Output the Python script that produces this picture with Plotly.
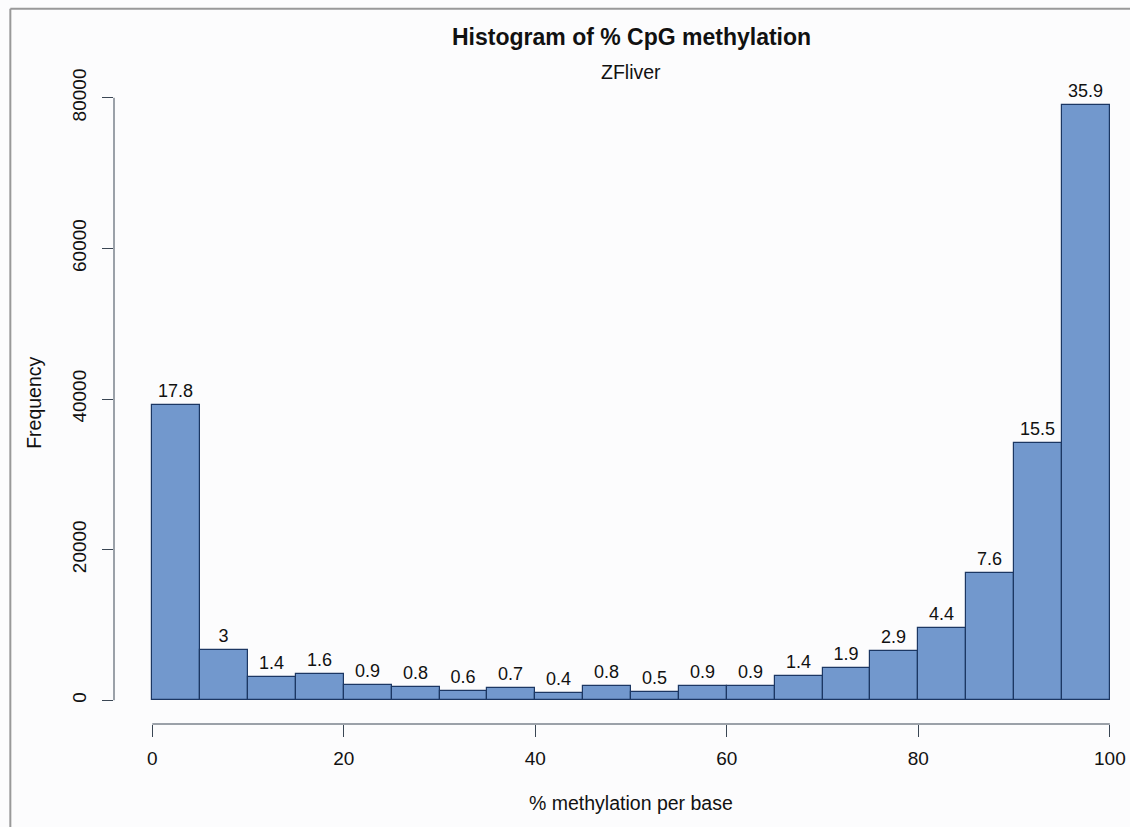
import plotly.graph_objects as go

# ---- data ----
bin_edges = [0, 5, 10, 15, 20, 25, 30, 35, 40, 45, 50, 55, 60, 65, 70, 75, 80, 85, 90, 95, 100]
counts = [39200, 6650, 3100, 3420, 1990, 1770, 1240, 1640, 930, 1820,
          1060, 1900, 1900, 3150, 4300, 6510, 9610, 16840, 34200, 79070]
pct_labels = ["17.8", "3", "1.4", "1.6", "0.9", "0.8", "0.6", "0.7", "0.4", "0.8",
              "0.5", "0.9", "0.9", "1.4", "1.9", "2.9", "4.4", "7.6", "15.5", "35.9"]
x_ticks = [0, 20, 40, 60, 80, 100]
y_ticks = [0, 20000, 40000, 60000, 80000]

centers = [(a + b) / 2 for a, b in zip(bin_edges[:-1], bin_edges[1:])]
widths = [b - a for a, b in zip(bin_edges[:-1], bin_edges[1:])]

FONT = "Liberation Sans, Arial, Helvetica, sans-serif"
AX = "#3a4654"
BG = "#fcfcfd"

W, H = 1130, 827
# R-like usr ranges (4% padding)
xr = [bin_edges[0] - 0.04 * (bin_edges[-1] - bin_edges[0]), 102.1]
ymax = max(counts)
yr = [-0.04 * ymax, ymax * 1.04]

fig = go.Figure()
fig.add_trace(go.Bar(
    x=centers, y=counts, width=widths,
    marker=dict(color="#7298cd", line=dict(color="#1c3763", width=1.2)),
    text=pct_labels, textposition="outside",
    textfont=dict(family=FONT, size=18, color="#111111"),
    cliponaxis=False, hoverinfo="skip", showlegend=False,
))

# R-style axis lines spanning first to last tick
fig.add_shape(type="line", xref="x", yref="paper", x0=x_ticks[0], x1=x_ticks[-1], y0=0, y1=0,
              line=dict(color=AX, width=1))
fig.add_shape(type="line", xref="paper", yref="y", x0=0, x1=0, y0=y_ticks[0], y1=y_ticks[-1],
              line=dict(color=AX, width=1))

plot_top, plot_bot = 81.2, 723.8
ph = plot_bot - plot_top
def py(p):
    return (plot_bot - p) / ph

plot_left = 113.7
pw = W - plot_left
def px(p):
    return (p - plot_left) / pw

# image border (top and left)
fig.add_shape(type="line", xref="paper", yref="paper", x0=px(10), x1=1.0, y0=py(9), y1=py(9),
              line=dict(color="#999999", width=2))
fig.add_shape(type="line", xref="paper", yref="paper", x0=px(10), x1=px(10), y0=py(9), y1=py(830),
              line=dict(color="#999999", width=2))

fig.add_annotation(text="<b>Histogram of % CpG methylation</b>", xref="x", x=50, yref="paper", y=py(37.5),
                   yanchor="middle", xanchor="center", showarrow=False,
                   font=dict(family=FONT, size=23, color="#111111"))
fig.add_annotation(text="ZFliver", xref="x", x=50, yref="paper", y=py(72.5),
                   yanchor="middle", xanchor="center", showarrow=False,
                   font=dict(family=FONT, size=19.5, color="#111111"))
fig.add_annotation(text="% methylation per base", xref="x", x=50, yref="paper", y=py(803),
                   yanchor="middle", xanchor="center", showarrow=False,
                   font=dict(family=FONT, size=19.5, color="#111111"))
fig.add_annotation(text="Frequency", xref="paper", x=px(33), yref="y", y=(yr[0] + yr[1]) / 2,
                   yanchor="middle", xanchor="center", showarrow=False, textangle=-90,
                   font=dict(family=FONT, size=19.5, color="#111111"))

fig.update_layout(
    width=W, height=H,
    margin=dict(l=plot_left, r=0, t=plot_top, b=H - plot_bot, pad=0),
    paper_bgcolor=BG, plot_bgcolor=BG,
    bargap=0,
    xaxis=dict(range=xr, tickvals=x_ticks, ticktext=[str(v) for v in x_ticks],
               ticks="outside", ticklen=12, tickcolor=AX, tickwidth=1, ticklabelstandoff=5,
               showline=False, showgrid=False, zeroline=False,
               tickfont=dict(family=FONT, size=19, color="#111111")),
    yaxis=dict(range=yr, tickvals=y_ticks, ticktext=[str(v) for v in y_ticks],
               ticks="outside", ticklen=11, tickcolor=AX, tickwidth=1, tickangle=-90,
               ticklabelstandoff=8,
               showline=False, showgrid=False, zeroline=False,
               tickfont=dict(family=FONT, size=19, color="#111111")),
)

fig.write_html("out.html")
